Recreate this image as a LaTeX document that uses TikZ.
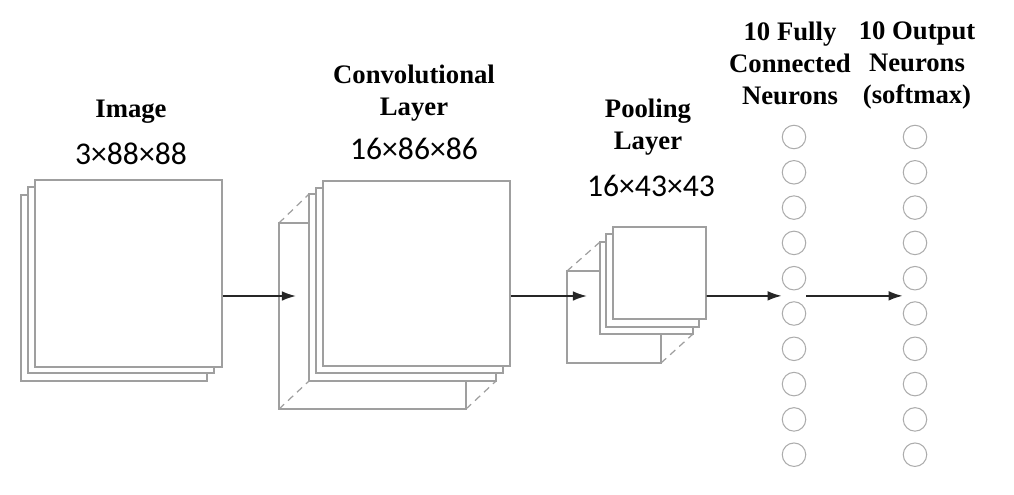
\documentclass[tikz,border=0pt]{standalone}
\usepackage{fontspec}
\setmainfont{Liberation Serif}
\newfontfamily\dimfont{Carlito}
\usetikzlibrary{arrows.meta,calc}

\begin{document}
\begin{tikzpicture}[
  x=0.02cm, y=-0.02cm,
  >=Latex,
  sheet/.style={draw=gray!75, fill=white, line width=0.7pt},
  face/.style={draw=gray!75, line width=0.7pt},
  hidden/.style={gray!75, line width=0.7pt, dash pattern=on 4pt off 3pt},
  flow/.style={-{Latex[length=8pt,width=5.5pt]}, black!85, line width=1pt},
  neuron/.style={circle, draw=gray!65, line width=0.6pt, minimum size=0.47cm, inner sep=0pt},
  title/.style={font=\bfseries\fontsize{15.2}{18.2}\selectfont, align=center},
  dims/.style={font=\dimfont\fontsize{18}{21}\selectfont}
]
  % Canvas in pixel units, y pointing down: 1014 x 494.
  \useasboundingbox (0,0) rectangle (1014,494);
  \coordinate (lvl) at (0,296);

  % Input image: three stacked channels.
  \draw[sheet] (21,195) rectangle (207,381);
  \draw[sheet] (28,187) rectangle (214,373);
  \node[sheet, minimum width=3.74cm, minimum height=3.74cm, inner sep=0pt]
    (img) at (128.5,273.5) {};

  % Convolutional layer: cuboid face behind the feature maps.
  \draw[face] (279,223) rectangle (466,409);
  \draw[hidden] (279,223) -- (309,194);
  \draw[hidden] (279,409) -- (309,381);
  \draw[hidden] (466,409) -- (496,381);
  \draw[sheet] (309,194) rectangle (496,381);
  \draw[sheet] (316,188) rectangle (503,373);
  \node[sheet, minimum width=3.74cm, minimum height=3.70cm, inner sep=0pt]
    (conv) at (416.5,273.5) {};

  % Pooling layer.
  \draw[face] (567,271) rectangle (661,363);
  \draw[hidden] (567,271) -- (600,242);
  \draw[hidden] (661,363) -- (693,334);
  \draw[sheet] (600,242) rectangle (693,334);
  \draw[sheet] (606,234) rectangle (699,327);
  \node[sheet, minimum width=1.86cm, minimum height=1.84cm, inner sep=0pt]
    (pool) at (659.5,273) {};

  % Fully connected and output neurons.
  \foreach \i in {1,...,10} {
    \node[neuron] (fc\i) at (794,{137+35.3*(\i-1)}) {};
    \node[neuron] (out\i) at (915,{137+35.3*(\i-1)}) {};
  }

  % Data flow.
  \coordinate (convin) at (296,296);
  \coordinate (poolin) at (587,296);
  \draw[flow] (img.east |- lvl) -- (convin);
  \draw[flow] (conv.east |- lvl) -- (poolin);
  \draw[flow] (pool.east |- lvl) -- ($(fc5.west)!0.5!(fc6.west)$);
  \draw[flow] ($(fc5.east)!0.5!(fc6.east)$) -- ($(out5.west)!0.5!(out6.west)$);

  % Labels.
  \node[title] (imgname) at (131,112) {Image};
  \node[dims] (imgdims) at (131,154) {3×88×88};
  \node[title] (convname) at (414,93) {Convolutional\\Layer};
  \node[dims] (convdims) at (414,149) {16×86×86};
  \node[title] (poolname) at (648,127.5) {Pooling\\Layer};
  \node[dims] (pooldims) at (651,186) {16×43×43};
  \node[title, anchor=north] (fcname) at (790,16) {10 Fully\\Connected\\Neurons};
  \node[title, anchor=north] (outname) at (917,16) {10 Output\\Neurons\\(softmax)};
\end{tikzpicture}
\end{document}
